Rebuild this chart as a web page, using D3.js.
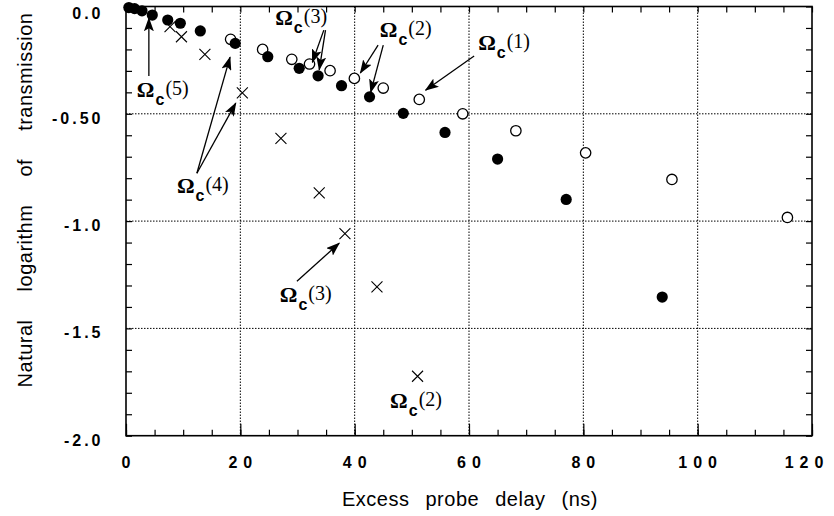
<!DOCTYPE html>
<html>
<head>
<meta charset="utf-8">
<script src="https://cdn.jsdelivr.net/npm/d3@7"></script>
<style>
  body { margin: 0; background: #fff; }
  svg { display: block; }
</style>
</head>
<body>
<script>
const width = 834;
const height = 516;

// DATA
const filledX = [0.5, 1.5, 2.8, 4.6, 7.3, 9.5, 13.0, 19.1, 24.8, 30.3, 33.6, 37.7, 42.6, 48.5, 55.8, 65.0, 77.0, 93.8];
const filledY = [-0.005, -0.01, -0.02, -0.04, -0.063, -0.078, -0.114, -0.172, -0.234, -0.288, -0.323, -0.369, -0.421, -0.498, -0.587, -0.711, -0.899, -1.354];

const openX = [18.3, 23.9, 29.0, 32.1, 35.7, 39.95, 45.0, 51.3, 58.9, 68.2, 80.4, 95.5, 115.7];
const openY = [-0.153, -0.2, -0.246, -0.268, -0.299, -0.335, -0.38, -0.433, -0.5, -0.579, -0.682, -0.806, -0.983];

const crossX = [7.7, 9.7, 13.8, 20.35, 27.1, 33.8, 38.3, 43.9, 51.0];
const crossY = [-0.094, -0.141, -0.223, -0.402, -0.615, -0.868, -1.058, -1.307, -1.723];

const xTicks = [0, 20, 40, 60, 80, 100, 120];
const xTickLabels = ['0', '20', '40', '60', '80', '100', '120'];
const yTicks = [0, -0.5, -1.0, -1.5, -2.0];
const yTickLabels = ['0.0', '-0.50', '-1.0', '-1.5', '-2.0'];

// annotation labels: Omega_c(n) placed in data units
const labelNums = ['5', '4', '3', '2', '1', '3', '2'];
const labelX = [1.9, 8.9, 26.1, 44.4, 61.6, 26.9, 46.2];
const labelY = [-0.422, -0.87, -0.086, -0.142, -0.203, -1.378, -1.873];

// arrows: [x1, y1, x2, y2] in data units
const arrows = [
  [4.0, -0.324, 4.0, -0.055],
  [12.4, -0.777, 18.2, -0.236],
  [12.4, -0.777, 19.2, -0.45],
  [34.6, -0.11, 32.6, -0.26],
  [34.9, -0.11, 33.8, -0.295],
  [44.1, -0.18, 41.0, -0.31],
  [45.0, -0.18, 42.8, -0.40],
  [60.9, -0.231, 52.4, -0.39],
  [29.9, -1.28, 37.3, -1.103]
];

// LAYOUT
const pLeft = 126, pRight = 812, pTop = 6.5, pBottom = 435.7;

const x = d3.scaleLinear().domain([0, 120]).range([pLeft, pRight]);
const y = d3.scaleLinear().domain([-2.0, 0]).range([pBottom, pTop]);

const svg = d3.select('body')
  .append('svg')
  .attr('width', width)
  .attr('height', height);

const sans = "'Liberation Sans', Arial, Helvetica, sans-serif";
const serif = "'Liberation Serif', 'Times New Roman', serif";

// GRID
const gridX = [20, 40, 60, 80, 100];
const gridY = [-0.5, -1.0, -1.5];
svg.append('g').selectAll('line')
  .data(gridX)
  .join('line')
  .attr('x1', d => x(d)).attr('x2', d => x(d))
  .attr('y1', pTop).attr('y2', pBottom)
  .attr('stroke', '#000').attr('stroke-width', 1)
  .attr('stroke-dasharray', '1.5,1.5');
svg.append('g').selectAll('line')
  .data(gridY)
  .join('line')
  .attr('x1', pLeft).attr('x2', pRight)
  .attr('y1', d => y(d)).attr('y2', d => y(d))
  .attr('stroke', '#000').attr('stroke-width', 1)
  .attr('stroke-dasharray', '1.5,1.5');

// AXES (ticks only, pointing inward)
const minorX = d3.range(0, 121, 5);
const minorY = d3.range(0, 21).map(i => -i / 10);

const tickStyle = g => {
  g.select('.domain').remove();
  g.selectAll('line').attr('stroke', '#000').attr('stroke-width', 1.2);
  g.selectAll('text').remove();
};

svg.append('g')
  .attr('transform', `translate(0,${pBottom})`)
  .call(d3.axisBottom(x).tickValues(minorX).tickSize(-6).tickFormat(''))
  .call(tickStyle);
svg.append('g')
  .attr('transform', `translate(0,${pBottom})`)
  .call(d3.axisBottom(x).tickValues(xTicks).tickSize(-12).tickFormat(''))
  .call(tickStyle);
svg.append('g')
  .attr('transform', `translate(0,${pTop})`)
  .call(d3.axisTop(x).tickValues(minorX).tickSize(-6).tickFormat(''))
  .call(tickStyle);
svg.append('g')
  .attr('transform', `translate(${pLeft},0)`)
  .call(d3.axisLeft(y).tickValues(minorY).tickSize(-6).tickFormat(''))
  .call(tickStyle);
svg.append('g')
  .attr('transform', `translate(${pRight},0)`)
  .call(d3.axisRight(y).tickValues(minorY).tickSize(-6).tickFormat(''))
  .call(tickStyle);

// FRAME
svg.append('rect')
  .attr('x', pLeft).attr('y', pTop)
  .attr('width', pRight - pLeft).attr('height', pBottom - pTop)
  .attr('fill', 'none').attr('stroke', '#000').attr('stroke-width', 1.6);

// TICK LABELS
svg.append('g').selectAll('text')
  .data(xTicks)
  .join('text')
  .attr('x', d => x(d) + 3 - (d === 120 ? 8 : 0))
  .attr('y', 468)
  .attr('text-anchor', 'middle')
  .attr('font-family', sans).attr('font-weight', 'bold')
  .attr('font-size', 16).attr('letter-spacing', 6)
  .text((d, i) => xTickLabels[i]);

svg.append('g').selectAll('text')
  .data(yTicks)
  .join('text')
  .attr('x', 103.5)
  .attr('y', d => y(d) + (d === 0 ? 12 : 10))
  .attr('text-anchor', 'end')
  .attr('font-family', sans).attr('font-weight', 'bold')
  .attr('font-size', 16).attr('letter-spacing', 3)
  .text((d, i) => yTickLabels[i]);

// AXIS TITLES
svg.append('text')
  .attr('x', (341.7 + 598.3) / 2)
  .attr('y', 506)
  .attr('text-anchor', 'middle')
  .attr('font-family', sans).attr('font-size', 20)
  .attr('letter-spacing', 0.5).attr('word-spacing', 10)
  .text('Excess probe delay (ns)');

svg.append('text')
  .attr('transform', 'translate(32,200) rotate(-90)')
  .attr('text-anchor', 'middle')
  .attr('font-family', sans).attr('font-size', 20)
  .attr('letter-spacing', 0.5).attr('word-spacing', 22)
  .text('Natural logarithm of transmission');

// MARKERS
const plot = svg.append('g');

plot.selectAll('circle.open')
  .data(openX)
  .join('circle')
  .attr('class', 'open')
  .attr('cx', d => x(d))
  .attr('cy', (d, i) => y(openY[i]))
  .attr('r', 5.2)
  .attr('fill', '#fff').attr('stroke', '#000').attr('stroke-width', 1.3);

plot.selectAll('circle.filled')
  .data(filledX)
  .join('circle')
  .attr('class', 'filled')
  .attr('cx', d => x(d))
  .attr('cy', (d, i) => y(filledY[i]))
  .attr('r', 5.6)
  .attr('fill', '#000');

const cs = 5.5;
plot.selectAll('path.cross')
  .data(crossX)
  .join('path')
  .attr('class', 'cross')
  .attr('d', (d, i) => {
    const cx = x(d), cy = y(crossY[i]);
    return `M${cx - cs},${cy - cs}L${cx + cs},${cy + cs}M${cx - cs},${cy + cs}L${cx + cs},${cy - cs}`;
  })
  .attr('stroke', '#000').attr('stroke-width', 1.1).attr('fill', 'none');

// ARROWS
svg.append('defs').append('marker')
  .attr('id', 'head')
  .attr('viewBox', '0 0 14 10')
  .attr('refX', 13).attr('refY', 5)
  .attr('markerUnits', 'userSpaceOnUse')
  .attr('markerWidth', 14).attr('markerHeight', 10)
  .attr('orient', 'auto')
  .append('path')
  .attr('d', 'M0,0L14,5L0,10L3,5Z')
  .attr('fill', '#000');

svg.append('g').selectAll('line')
  .data(arrows)
  .join('line')
  .attr('x1', d => x(d[0])).attr('y1', d => y(d[1]))
  .attr('x2', d => x(d[2])).attr('y2', d => y(d[3]))
  .attr('stroke', '#000').attr('stroke-width', 1.3)
  .attr('marker-end', 'url(#head)');

// ANNOTATION LABELS
const labels = svg.append('g').selectAll('text')
  .data(labelNums)
  .join('text')
  .attr('x', (d, i) => x(labelX[i]))
  .attr('y', (d, i) => y(labelY[i]))
  .attr('fill', '#000');

labels.append('tspan')
  .attr('font-family', serif).attr('font-weight', 'bold').attr('font-size', 22)
  .text('Ω');
labels.append('tspan')
  .attr('font-family', sans).attr('font-weight', 'bold').attr('font-size', 16)
  .attr('dx', 1).attr('dy', 8)
  .text('c');
labels.append('tspan')
  .attr('font-family', serif).attr('font-size', 20)
  .attr('dx', 1).attr('dy', -10)
  .text(d => `(${d})`);
</script>
</body>
</html>
